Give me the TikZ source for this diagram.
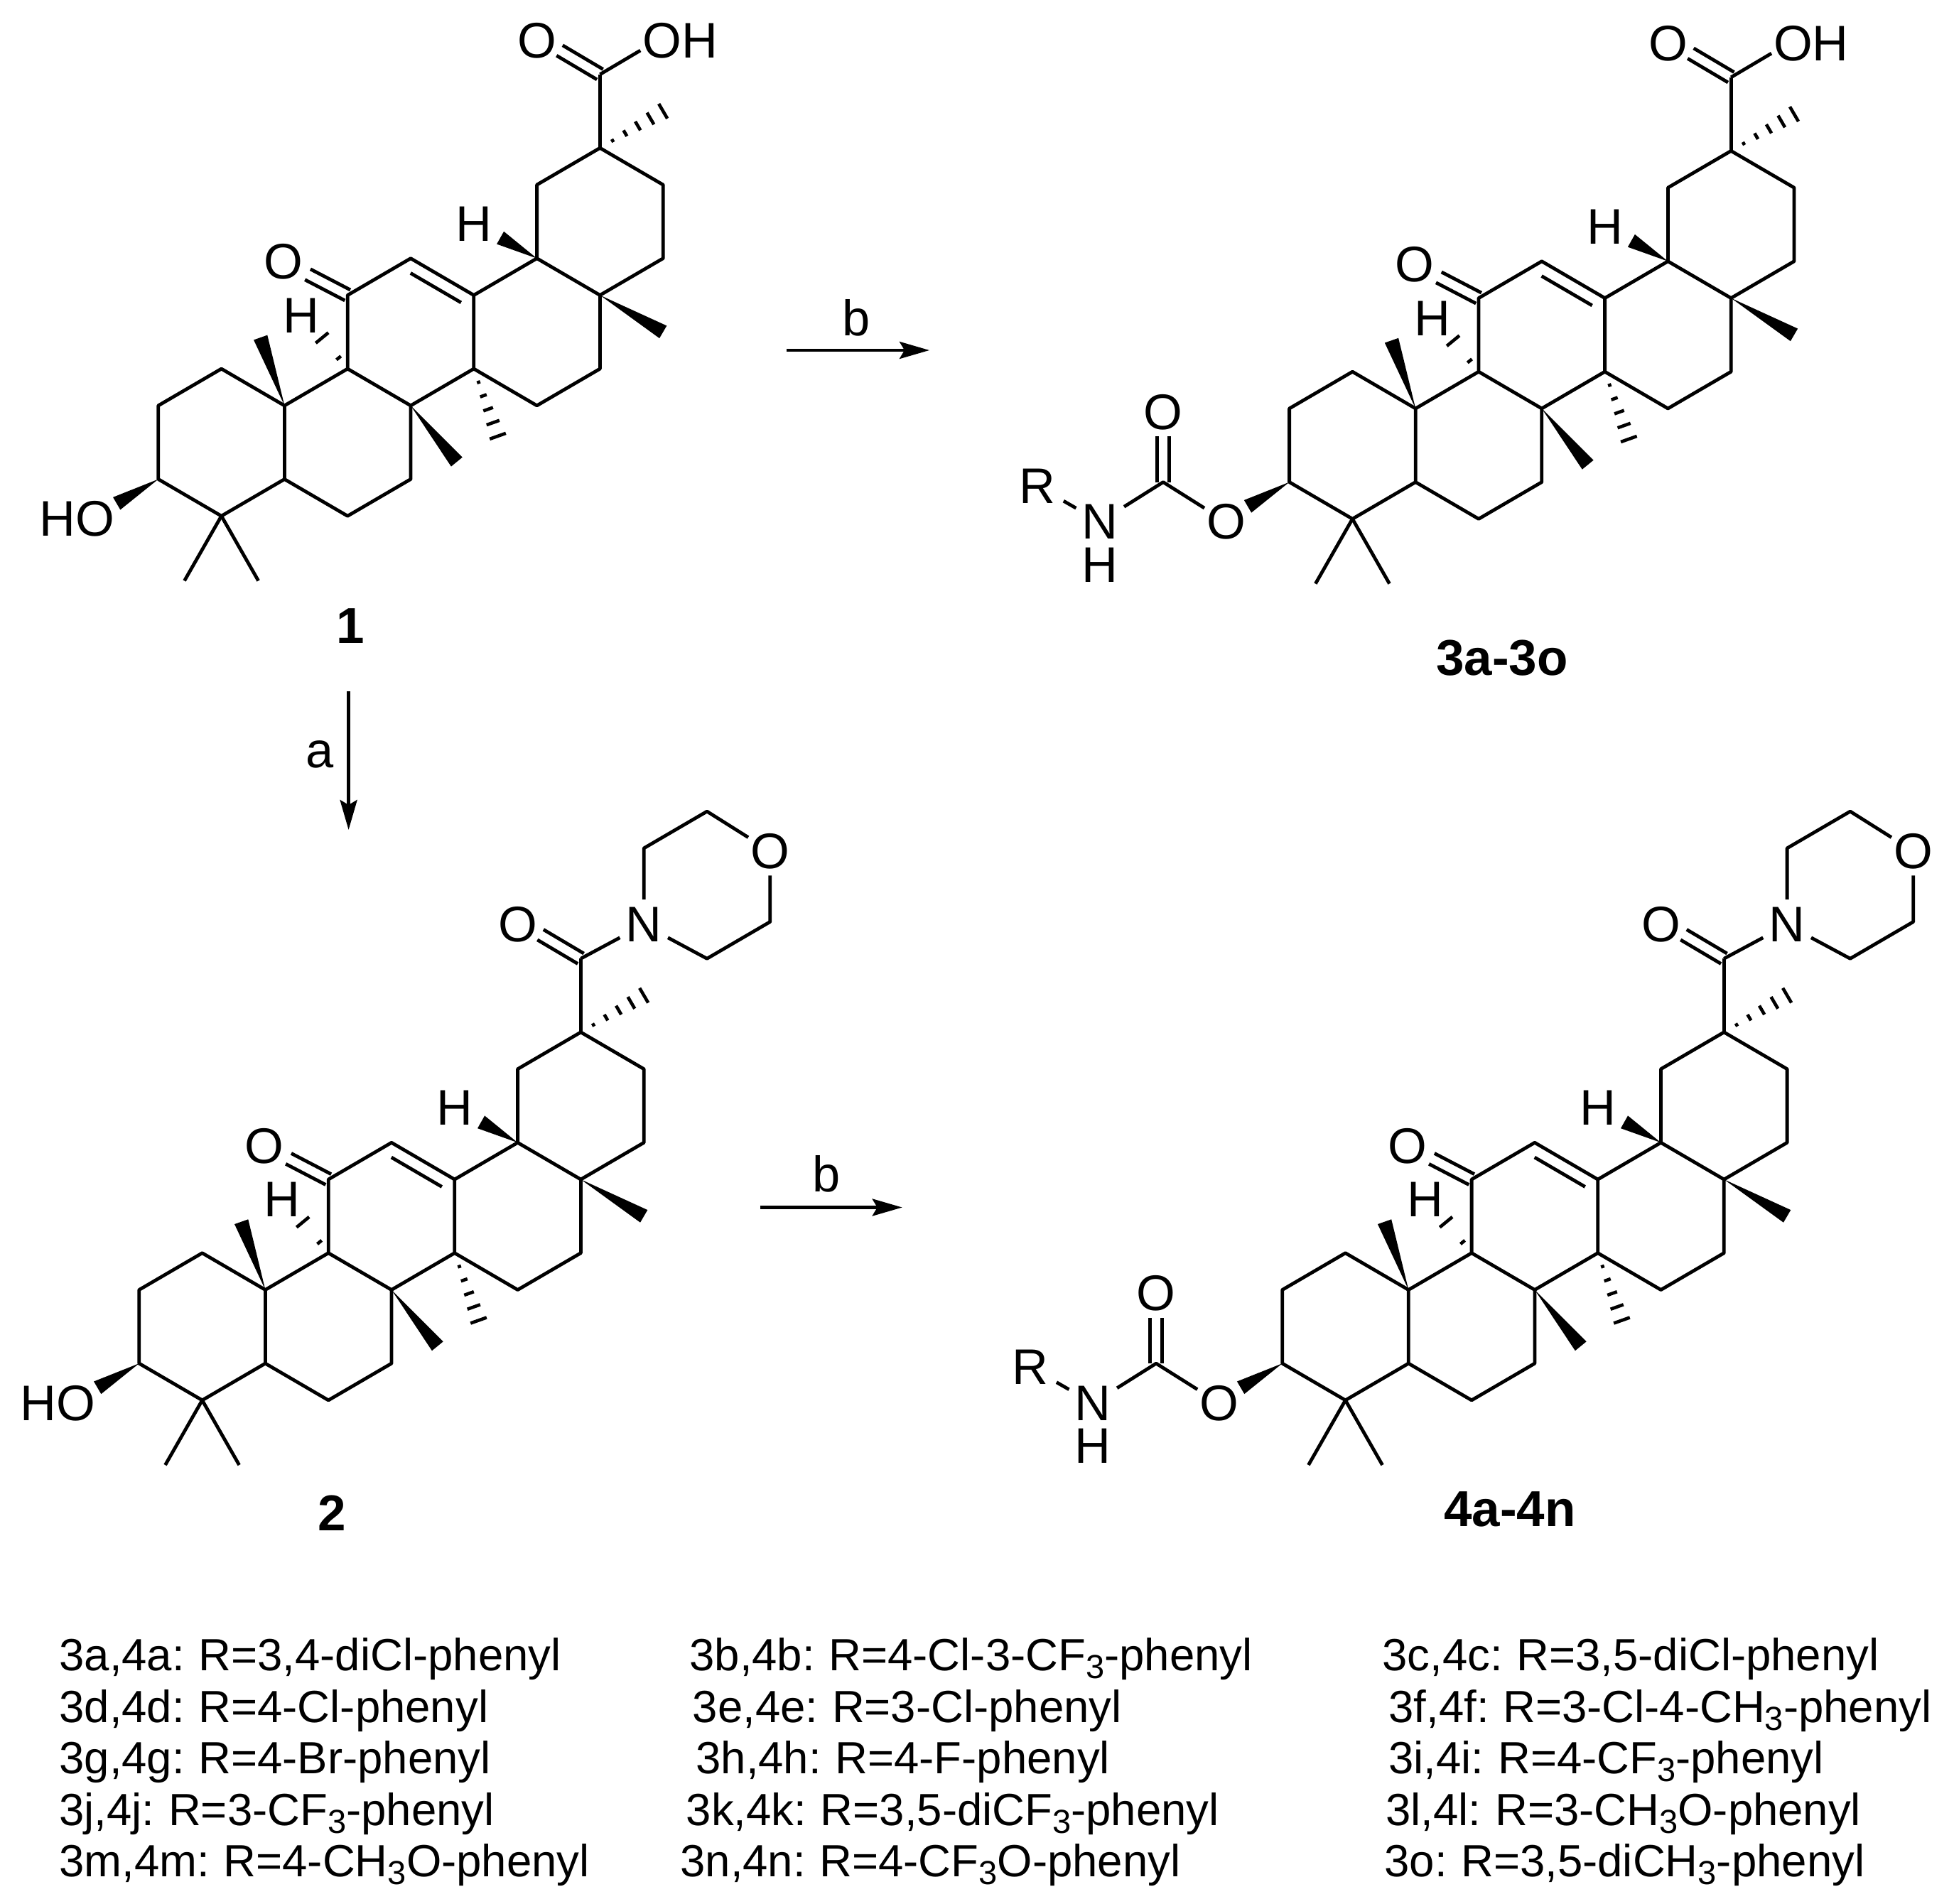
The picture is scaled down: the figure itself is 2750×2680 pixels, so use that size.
\documentclass[tikz,border=0pt]{standalone}
\usepackage{fontspec}
\setmainfont{Liberation Sans}
\usetikzlibrary{calc,arrows.meta}
\newcommand{\chemsub}[1]{\raisebox{-5.5pt}{\fontsize{23.5}{26}\selectfont #1}}
\newcommand{\lsp}{\kern1pt\ }
\tikzset{
  mol/.style 2 args={shift={(#1,#2)},x=44.4pt,y=-25.9pt},
  bond/.style={line width=2.4pt,line join=round,line cap=butt,black},
  hashline/.style={line width=2.3pt,black},
  atom/.style={font=\fontsize{35.2}{38}\selectfont,inner sep=0pt,text=black},
  atomN/.style={atom,inner xsep=4pt,inner ysep=5.5pt},
  atomNc/.style={atom,inner xsep=4pt,inner ysep=0pt},
  atomO/.style={atom,inner xsep=1.5pt,inner ysep=4.5pt},
  atomR/.style={atom,inner xsep=5.8pt,inner ysep=0pt},
  boldlabel/.style={font=\fontsize{35.5}{38}\selectfont\bfseries,inner sep=0pt,text=black},
  rowtext/.style={font=\fontsize{31.75}{36}\selectfont,inner sep=0pt,anchor=base west,text=black},
  rxn/.style={line width=2.2pt,black,-{Stealth[length=21pt,width=12pt,inset=3.5pt]}},
}
\newcommand{\WedgeBond}[2]{\fill[black] (#1) -- ($(#2)!5.1pt!90:(#1)$) -- ($(#2)!5.1pt!-90:(#1)$) -- cycle;}
\newcommand{\HashBond}[4]{% from, to, halfwidth, list of fractions
  \foreach \t in {#4}{
    \pgfmathsetmacro{\hw}{\t*#3}
    \coordinate (tmphash) at ($(#1)!\t!(#2)$);
    \draw[hashline] ($(tmphash)!\hw pt!90:(#1)$) -- ($(tmphash)!\hw pt!-90:(#1)$);
  }}
\newcommand{\DblBond}[2]{\draw[bond] ($(#1)!4.2pt!90:(#2)$) -- ($(#2)!4.2pt!-90:(#1)$); \draw[bond] ($(#1)!4.2pt!-90:(#2)$) -- ($(#2)!4.2pt!90:(#1)$);}
% the common triterpene skeleton
\newcommand{\CoreSkeleton}[3]{%
\begin{scope}[mol={#2}{#3}]
  \coordinate (#1q) at (0,0); \coordinate (#1a) at (-1,1); \coordinate (#1b) at (-1,3);
  \coordinate (#1c) at (0,4); \coordinate (#1d) at (1,3); \coordinate (#1e) at (1,1);
  \coordinate (#1f) at (-2,4); \coordinate (#1g) at (-2,6); \coordinate (#1h) at (-1,7);
  \coordinate (#1i) at (0,6); \coordinate (#1j) at (-3,3); \coordinate (#1k) at (-4,4);
  \coordinate (#1l) at (-4,6); \coordinate (#1m) at (-3,7); \coordinate (#1n) at (-5,7);
  \coordinate (#1o) at (-6,6); \coordinate (#1p) at (-7,7); \coordinate (#1r) at (-7,9);
  \coordinate (#1s) at (-6,10); \coordinate (#1t) at (-5,9); \coordinate (#1u) at (-3,9);
  \coordinate (#1v) at (-4,10); \coordinate (#1C) at (0,-2);
  \draw[bond] (#1q)--(#1a)--(#1b)--(#1c)--(#1d)--(#1e)--cycle;
  \draw[bond] (#1b)--(#1f)--(#1g)--(#1h)--(#1i)--(#1c);
  \draw[bond] (#1f)--(#1j)--(#1k)--(#1l)--(#1m)--(#1g);
  \draw[bond] (#1m)--(#1u)--(#1v)--(#1t)--(#1n)--(#1l);
  \draw[bond] (#1n)--(#1o)--(#1p)--(#1r)--(#1s)--(#1t);
  \draw[bond] (#1C)--(#1q);
  % inner line of the ring C=C
  \coordinate (#1ja) at ($(#1j)!.1!(#1f)$); \coordinate (#1fa) at ($(#1f)!.1!(#1j)$);
  \draw[bond] ($(#1ja)!9pt!-90:(#1f)$) -- ($(#1fa)!9pt!90:(#1j)$);
  % ketone
  \node[atom] (#1Ok) at (-5.02,3.09) {O};
  \coordinate (#1Oke) at ($(#1k)!.62!(#1Ok)$);
  \DblBond{#1k}{#1Oke}
  % methyls and stereo bonds
  \coordinate (#1m1) at (1,-1); \HashBond{#1q}{#1m1}{6}{.2,.4,.6,.8,1}
  \coordinate (#1m2) at (1,5); \WedgeBond{#1c}{#1m2}
  \coordinate (#1m3) at (-1.62,7.83); \HashBond{#1g}{#1m3}{6}{.2,.4,.6,.8,1}
  \coordinate (#1m4) at (-2.27,8.53); \WedgeBond{#1m}{#1m4}
  \coordinate (#1m5) at (-5.38,5.15); \WedgeBond{#1n}{#1m5}
  \coordinate (#1m6) at (-6.586,11.76); \draw[bond] (#1s)--(#1m6);
  \coordinate (#1m7) at (-5.414,11.76); \draw[bond] (#1s)--(#1m7);
  \coordinate (#1w1) at (-1.58,2.44); \WedgeBond{#1b}{#1w1}
  \node[atom] (#1Hb) at (-2.0,2.06) {H};
  \coordinate (#1w2) at (-4.405,5.16); \HashBond{#1l}{#1w2}{5.75}{.35,1}
  \node[atom] (#1Hl) at (-4.73,4.55) {H};
  \coordinate (#1w3) at (-7.66,9.66); \WedgeBond{#1r}{#1w3}
\end{scope}}
% acid group
\newcommand{\AcidGroup}[3]{%
\begin{scope}[mol={#2}{#3}]
  \node[atom] (#1Oa) at (-1,-2.92) {O};
  \node[atom] (#1OH) at (1.27,-2.92) {OH};
  \coordinate (#1Oae) at (-.64,-2.65); \coordinate (#1OHe) at (.64,-2.65);
  \DblBond{#1C}{#1Oae}
  \draw[bond] (#1C)--(#1OHe);
\end{scope}}
% morpholine amide
\newcommand{\AmideGroup}[3]{%
\begin{scope}[mol={#2}{#3}]
  \node[atom] (#1Oa) at (-1,-2.92) {O};
  \node[atomN] (#1N) at (1,-2.92) {N};
  \node[atomO] (#1Om) at (3,-4.92) {O};
  \coordinate (#1Oae) at (-.64,-2.65);
  \coordinate (#1x1) at (1,-5); \coordinate (#1x2) at (2,-6);
  \coordinate (#1x3) at (3,-3); \coordinate (#1x4) at (2,-2);
  \DblBond{#1C}{#1Oae}
  \draw[bond] (#1C)--(#1N);
  \draw[bond] (#1N)--(#1x1)--(#1x2)--(#1Om);
  \draw[bond] (#1Om)--(#1x3)--(#1x4)--(#1N);
\end{scope}}
% free hydroxyl
\newcommand{\FreeOH}[3]{%
\begin{scope}[mol={#2}{#3}]
  \node[atom] (#1HO) at (-8.29,10.08) {HO};
\end{scope}}
% carbamate
\newcommand{\Carbamate}[3]{%
\begin{scope}[mol={#2}{#3}]
  \node[atomO] (#1Oc) at (-8,10.08) {O};
  \coordinate (#1Cc) at (-9,9);
  \node[atom] (#1Oz) at (-9,7.1) {O};
  \coordinate (#1Oze) at (-9,7.76);
  \node[atomNc] (#1Nc) at (-10,10.08) {N};
  \node[atom] (#1Hc) at (-10,11.25) {H};
  \node[atomR] (#1Rc) at (-11,9.1) {R};
  \DblBond{#1Cc}{#1Oze}
  \draw[bond] (#1Oc)--(#1Cc)--(#1Nc);
  \draw[bond] (#1Nc)--(#1Rc);
\end{scope}}
\begin{document}
\begin{tikzpicture}[x=0.5pt,y=-0.5pt]
\useasboundingbox (0,0) rectangle (2750,2680);
\CoreSkeleton{A}{844.4}{208.3}
\AcidGroup{A}{844.4}{208.3}
\FreeOH{A}{844.4}{208.3}
\node[boldlabel] (lab1) at (493,881) {1};

\CoreSkeleton{B}{2436.2}{212.4}
\AcidGroup{B}{2436.2}{212.4}
\Carbamate{B}{2436.2}{212.4}
\node[boldlabel] (lab3) at (2114,926) {3a-3o};

\CoreSkeleton{D}{817.4}{1452.9}
\AmideGroup{D}{817.4}{1452.9}
\FreeOH{D}{817.4}{1452.9}
\node[boldlabel] (lab2) at (466.8,2130) {2};

\CoreSkeleton{E}{2426.3}{1452.9}
\AmideGroup{E}{2426.3}{1452.9}
\Carbamate{E}{2426.3}{1452.9}
\node[boldlabel] (lab4) at (2125,2124) {4a-4n};

% reaction arrows
\coordinate (ra1) at (490.6,973); \coordinate (ra2) at (490.6,1168);
\draw[rxn] (ra1)--(ra2);
\node[atom] (la) at (449.7,1062) {a};
\coordinate (rb1) at (1107,493); \coordinate (rb2) at (1308,493);
\draw[rxn] (rb1)--(rb2);
\node[atom] (lb1) at (1205,447) {b};
\coordinate (rc1) at (1069.7,1699.5); \coordinate (rc2) at (1269.7,1699.5);
\draw[rxn] (rc1)--(rc2);
\node[atom] (lb2) at (1163.4,1652.8) {b};

% legend
\node[rowtext] (t1) at (83,2351) {3a,4a:\lsp R=3,4-diCl-phenyl};
\node[rowtext] (t2) at (83,2424) {3d,4d:\lsp R=4-Cl-phenyl};
\node[rowtext] (t3) at (83,2496.7) {3g,4g:\lsp R=4-Br-phenyl};
\node[rowtext] (t4) at (83,2569) {3j,4j:\lsp R=3-CF\chemsub{3}-phenyl};
\node[rowtext] (t5) at (83,2641) {3m,4m:\lsp R=4-CH\chemsub{3}O-phenyl};
\node[rowtext] (t6) at (970,2351) {3b,4b:\lsp R=4-Cl-3-CF\chemsub{3}-phenyl};
\node[rowtext] (t7) at (974.5,2424) {3e,4e:\lsp R=3-Cl-phenyl};
\node[rowtext] (t8) at (979,2496.7) {3h,4h:\lsp R=4-F-phenyl};
\node[rowtext] (t9) at (965.5,2569) {3k,4k:\lsp R=3,5-diCF\chemsub{3}-phenyl};
\node[rowtext] (t10) at (957,2641) {3n,4n:\lsp R=4-CF\chemsub{3}O-phenyl};
\node[rowtext] (t11) at (1945,2351) {3c,4c:\lsp R=3,5-diCl-phenyl};
\node[rowtext] (t12) at (1954,2424) {3f,4f:\lsp R=3-Cl-4-CH\chemsub{3}-phenyl};
\node[rowtext] (t13) at (1954,2496.7) {3i,4i:\lsp R=4-CF\chemsub{3}-phenyl};
\node[rowtext] (t14) at (1950,2569) {3l,4l:\lsp R=3-CH\chemsub{3}O-phenyl};
\node[rowtext] (t15) at (1948,2641) {3o:\lsp R=3,5-diCH\chemsub{3}-phenyl};
\end{tikzpicture}
\end{document}
